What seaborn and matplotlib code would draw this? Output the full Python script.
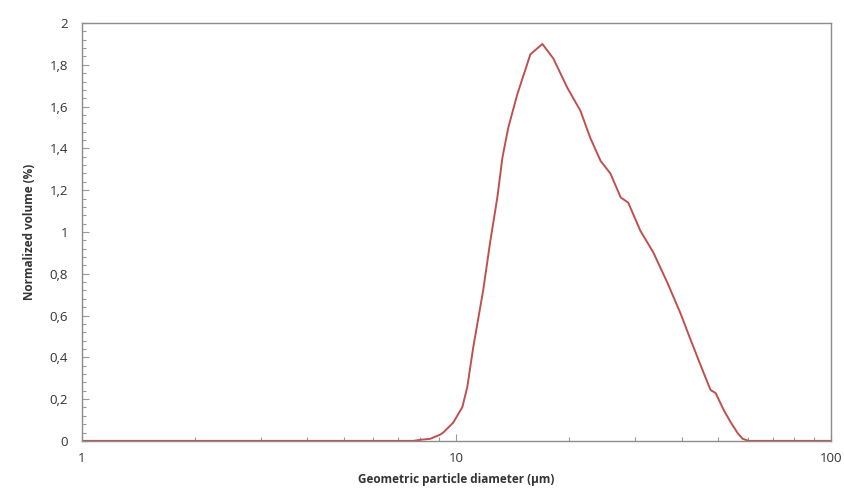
import matplotlib
matplotlib.use("Agg")
import matplotlib.pyplot as plt
import matplotlib.ticker as mticker
import seaborn as sns
import pandas as pd

# particle size distribution
diameter_um = [1.0, 7.08, 7.67, 8.01, 8.52, 9.06, 9.23, 9.81, 10.38, 10.7, 11.1,
               11.8, 12.3, 12.87, 13.28, 13.77, 14.56, 15.77, 16.98, 18.17, 19.8,
               21.46, 22.8, 24.3, 25.8, 27.5, 28.8, 31.0, 33.6, 36.7, 39.7, 42.3,
               45.8, 47.8, 49.3, 51.8, 54.0, 56.4, 58.2, 60.4, 100.0]
volume_pct = [0.0, 0.0, 0.0, 0.005, 0.01, 0.03, 0.04, 0.087, 0.162, 0.258, 0.449,
              0.721, 0.945, 1.165, 1.356, 1.5, 1.66, 1.85, 1.90, 1.83, 1.69,
              1.58, 1.45, 1.34, 1.28, 1.165, 1.14, 1.007, 0.902, 0.754, 0.611, 0.482,
              0.325, 0.243, 0.229, 0.148, 0.091, 0.038, 0.01, 0.0, 0.0]

y_ticks = [0, 0.2, 0.4, 0.6, 0.8, 1, 1.2, 1.4, 1.6, 1.8, 2]
y_labels = ["0", "0,2", "0,4", "0,6", "0,8", "1", "1,2", "1,4", "1,6", "1,8", "2"]
x_ticks = [1, 10, 100]
x_labels = ["1", "10", "100"]

df = pd.DataFrame({"d": diameter_um, "v": volume_pct})

sns.set_style("white")
plt.rcParams["font.family"] = ["Open Sans", "DejaVu Sans"]

fig = plt.figure(figsize=(8.45, 5.01), dpi=100)
ax = fig.add_axes([0.097, 0.12, 0.886, 0.834])

sns.lineplot(data=df, x="d", y="v", ax=ax, color="#C0504D", linewidth=1.4)

ax.set_xscale("log")
ax.set_xlim(1, 100)
ax.set_ylim(0, 2)
ax.set_xticks(x_ticks)
ax.set_xticklabels(x_labels)
ax.xaxis.set_minor_locator(mticker.LogLocator(base=10, subs=range(2, 10)))
ax.xaxis.set_minor_formatter(mticker.NullFormatter())
ax.set_yticks(y_ticks)
ax.set_yticklabels(y_labels)
ax.yaxis.set_minor_locator(mticker.MultipleLocator(0.04))

ax.tick_params(which="both", direction="in", bottom=True, left=True, top=False, right=False,
               colors="#999999", labelcolor="#333333", labelsize=9.5, width=0.8)
ax.tick_params(which="major", length=5)
ax.tick_params(which="minor", length=3)
ax.tick_params(axis="x", pad=8)
ax.tick_params(axis="y", pad=10)

for s in ax.spines.values():
    s.set_color("#8c8c8c")
    s.set_linewidth(1.0)
    s.set_visible(True)

ax.set_xlabel("Geometric particle diameter (\u00b5m)", fontsize=8.5, fontweight="bold",
              color="#333333", labelpad=6)
ax.set_ylabel("Normalized volume (%)", fontsize=8.5, fontweight="bold",
              color="#333333", labelpad=10)

fig.savefig("out.png", dpi=100)
